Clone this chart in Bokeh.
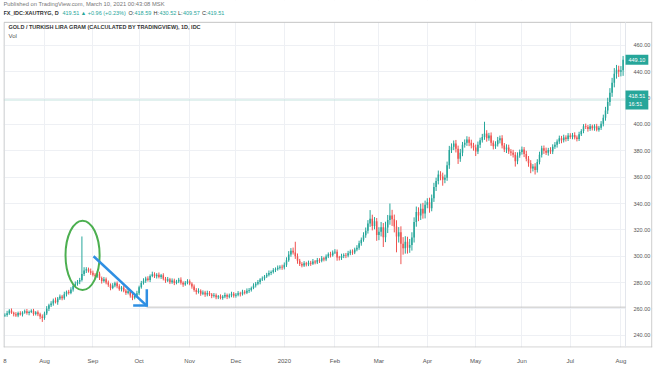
import pandas as pd
from bokeh.plotting import figure
from bokeh.models import (Range1d, FixedTicker, Label, Span, ColumnDataSource, NumeralTickFormatter,
                          BoxAnnotation)
from bokeh.embed import file_html
from bokeh.resources import INLINE

# ---------------- data ----------------
start_date = "2019-07-08"
first_open = 255.0

close_jul19 = [255.5, 256.8, 258.9, 257.2, 256.0, 255.1, 256.9, 255.8, 257.4, 258.3, 256.9, 257.8, 258.6, 256.2, 257.5, 256.1, 254.3, 253.2]
close_aug19 = [256.5, 260.2, 262.8, 264.1, 266.5, 265.2, 268.0, 269.4, 268.1, 271.2, 273.0, 272.2, 274.8, 277.5, 279.1, 280.6, 282.0, 286.5, 289.2, 290.1, 288.7, 287.5]
close_sep19 = [286.0, 284.8, 286.9, 283.5, 281.2, 282.6, 280.1, 278.4, 276.0, 277.8, 279.5, 277.2, 275.0, 276.3, 273.8, 272.1, 273.5, 270.2, 268.5, 269.8, 272.0]
close_oct19 = [276.5, 279.8, 281.5, 283.2, 282.0, 285.1, 286.4, 284.9, 286.0, 284.3, 285.6, 283.0, 281.4, 282.5, 280.3, 281.6, 279.8, 280.9, 282.1, 280.0, 278.6, 279.9, 281.0]
close_nov19 = [279.2, 277.0, 274.5, 272.8, 273.9, 271.5, 272.6, 270.9, 272.2, 271.0, 269.8, 270.5, 268.9, 269.6, 268.3, 269.4, 270.6, 269.2, 270.3, 271.5, 270.1]
close_dec19 = [270.8, 272.0, 271.2, 273.1, 272.4, 273.8, 274.5, 276.0, 277.8, 279.2, 280.5, 282.3, 283.1, 284.6, 286.0, 287.3, 288.1, 289.5, 290.2, 291.3, 292.0, 291.4]
close_jan20 = [293.5, 297.0, 301.4, 304.2, 302.8, 300.0, 296.5, 294.2, 293.0, 294.6, 293.8, 295.1, 294.4, 296.0, 295.3, 297.2, 296.5, 298.4, 297.6, 299.8, 301.5, 300.7, 302.9]
close_feb20 = [303.5, 299.0, 298.6, 300.2, 301.0, 300.5, 302.3, 303.6, 302.8, 305.2, 306.5, 309.8, 312.5, 316.0, 319.4, 324.8, 328.5, 323.0, 326.5, 316.2]
close_mar20 = [318.5, 322.0, 314.5, 321.8, 327.5, 331.0, 328.0, 322.5, 315.0, 318.2, 309.5, 306.0, 311.0, 306.5, 308.5, 314.2, 326.0, 333.5, 331.0, 336.0, 332.5, 339.0]
close_apr20 = [341.0, 336.5, 344.0, 352.5, 357.0, 362.0, 360.5, 358.0, 359.5, 369.0, 380.5, 383.0, 385.5, 381.5, 374.0, 378.5, 384.5, 386.0, 388.5, 386.0, 384.0, 382.5]
close_may20 = [379.5, 384.5, 388.0, 390.5, 393.0, 389.5, 391.5, 386.0, 383.5, 385.0, 388.0, 389.5, 384.0, 381.0, 382.5, 379.5, 378.5, 377.0, 372.0, 376.5, 379.0]
close_jun20 = [381.0, 377.5, 374.0, 370.5, 366.5, 368.0, 365.5, 371.5, 377.0, 382.0, 380.0, 378.5, 380.5, 379.5, 383.0, 384.5, 387.0, 389.5, 388.0, 390.0, 389.0, 391.5]
close_jul20 = [390.5, 392.0, 390.0, 389.0, 392.5, 395.0, 398.5, 398.0, 396.5, 398.5, 397.0, 398.5, 396.0, 397.5, 400.5, 405.0, 410.5, 417.0, 424.0, 431.5, 438.5, 441.5, 440.0]
close_aug20 = [441.0, 449.1]

# upper / lower wick lengths beyond the candle body
wick_hi_jul19 = [1.2, 1.8, 1.0, 1.5, 0.8, 1.6, 1.1, 1.4, 0.9, 1.3, 1.7, 1.0, 1.2, 1.5, 0.9, 1.4, 1.1, 1.6]
wick_hi_aug19 = [1.5, 2.0, 1.2, 1.8, 1.4, 2.2, 1.1, 1.6, 1.3, 1.9, 1.0, 1.5, 1.7, 1.2, 1.8, 1.4, 1.6, 28.5, 2.5, 1.6, 1.3, 2.0]
wick_hi_sep19 = [1.6, 1.2, 1.9, 1.4, 1.1, 1.7, 1.3, 1.5, 1.0, 1.8, 1.2, 1.4, 1.6, 1.1, 1.5, 1.3, 1.7, 1.0, 1.4, 1.2, 1.8]
wick_hi_oct19 = [1.2, 1.5, 1.8, 1.3, 1.6, 1.1, 1.9, 1.4, 1.2, 1.7, 1.0, 1.5, 1.3, 1.8, 1.1, 1.6, 1.4, 1.2, 1.5, 1.9, 1.0, 1.3, 1.6]
wick_hi_nov19 = [1.4, 1.1, 1.6, 1.3, 1.8, 1.0, 1.5, 1.2, 1.7, 1.4, 1.1, 1.6, 1.3, 1.0, 1.5, 1.2, 1.8, 1.1, 1.4, 1.6, 1.3]
wick_hi_dec19 = [1.3, 1.6, 1.1, 1.5, 1.2, 1.8, 1.4, 1.0, 1.7, 1.3, 1.5, 1.1, 1.6, 1.2, 1.4, 1.9, 1.1, 1.5, 1.3, 1.7, 1.2, 1.6]
wick_hi_jan20 = [1.8, 2.2, 2.5, 2.0, 2.4, 8.2, 2.1, 1.5, 1.3, 1.7, 1.2, 1.6, 1.4, 1.9, 1.1, 1.5, 1.3, 1.8, 1.2, 1.6, 1.4, 1.9, 1.5]
wick_hi_feb20 = [1.9, 1.6, 1.3, 1.7, 1.2, 1.5, 1.8, 1.4, 1.6, 1.3, 1.9, 2.0, 1.7, 2.2, 2.4, 2.6, 6.5, 3.0, 3.2, 2.5]
wick_hi_mar20 = [3.5, 4.0, 3.2, 4.4, 3.8, 9.0, 4.2, 3.6, 4.8, 3.9, 4.5, 5.0, 4.2, 3.8, 4.6, 4.0, 3.5, 4.2, 3.6, 3.9, 4.5, 3.2]
wick_hi_apr20 = [3.0, 3.4, 2.8, 3.2, 2.6, 3.0, 2.5, 2.9, 2.4, 2.8, 3.2, 2.6, 2.3, 2.7, 2.4, 2.9, 2.2, 2.6, 2.5, 2.1, 2.4, 2.0]
wick_hi_may20 = [2.2, 2.5, 1.9, 2.3, 9.0, 2.6, 2.1, 2.4, 1.8, 2.2, 2.5, 2.0, 2.3, 1.9, 2.4, 2.1, 1.8, 2.2, 2.0, 2.3, 1.9]
wick_hi_jun20 = [2.2, 1.8, 2.5, 2.0, 2.4, 1.9, 2.6, 2.1, 2.3, 1.8, 2.0, 2.4, 1.7, 2.2, 1.9, 2.1, 1.6, 2.0, 1.8, 2.2, 1.7, 1.9]
wick_hi_jul20 = [1.8, 1.5, 2.0, 1.6, 1.9, 1.4, 1.7, 2.1, 1.5, 1.8, 1.3, 1.6, 1.9, 1.4, 2.0, 2.4, 2.8, 3.2, 3.5, 3.8, 4.2, 3.6, 3.0]
wick_hi_aug20 = [3.2, 2.8]

wick_lo_jul19 = [1.0, 1.4, 1.2, 0.9, 1.6, 1.1, 1.3, 0.8, 1.5, 1.0, 1.2, 1.7, 0.9, 1.3, 1.1, 1.5, 2.0, 3.0]
wick_lo_aug19 = [1.4, 1.1, 1.8, 1.3, 1.6, 1.0, 2.0, 1.2, 1.5, 1.1, 1.7, 1.3, 1.0, 1.6, 1.2, 1.4, 1.8, 1.2, 1.5, 1.9, 1.1, 1.6]
wick_lo_sep19 = [1.3, 1.7, 1.1, 1.5, 1.9, 1.2, 1.4, 1.6, 1.8, 1.0, 1.3, 1.5, 1.2, 1.7, 1.1, 1.4, 1.0, 1.6, 1.8, 1.2, 1.0]
wick_lo_oct19 = [1.5, 1.1, 1.3, 1.7, 1.2, 1.6, 1.0, 1.4, 1.8, 1.1, 1.5, 1.3, 1.6, 1.0, 1.4, 1.2, 1.7, 1.1, 1.3, 1.5, 1.8, 1.0, 1.2]
wick_lo_nov19 = [1.2, 1.6, 1.4, 1.8, 1.1, 1.5, 1.0, 1.7, 1.3, 1.2, 1.6, 1.1, 1.5, 1.4, 1.0, 1.3, 1.2, 1.7, 1.1, 1.4, 1.5]
wick_lo_dec19 = [1.5, 1.2, 1.7, 1.0, 1.4, 1.1, 1.6, 1.3, 1.0, 1.5, 1.2, 1.8, 1.1, 1.4, 1.0, 1.3, 1.6, 1.2, 1.5, 1.1, 1.4, 1.7]
wick_lo_jan20 = [1.4, 1.6, 1.2, 1.8, 1.5, 2.0, 2.2, 1.6, 1.4, 1.1, 1.5, 1.3, 1.7, 1.0, 1.4, 1.2, 1.6, 1.1, 1.5, 1.3, 1.2, 1.6, 1.0]
wick_lo_feb20 = [1.2, 2.4, 1.8, 1.4, 1.6, 1.9, 1.3, 1.5, 1.7, 1.2, 1.4, 1.6, 1.8, 1.5, 2.0, 2.2, 2.5, 3.4, 2.6, 4.5]
wick_lo_mar20 = [4.0, 3.5, 7.5, 3.8, 4.2, 3.6, 5.0, 4.4, 12.0, 4.6, 15.5, 4.8, 4.0, 4.5, 3.9, 4.2, 3.8, 3.6, 4.4, 3.5, 4.0, 3.8]
wick_lo_apr20 = [2.6, 3.5, 2.4, 2.8, 3.0, 2.5, 2.9, 4.5, 2.6, 2.3, 2.7, 2.2, 2.5, 2.8, 4.0, 2.4, 2.6, 2.1, 2.3, 2.5, 2.2, 2.4]
wick_lo_may20 = [3.5, 2.0, 2.4, 1.8, 2.2, 2.6, 1.9, 2.3, 2.5, 2.1, 1.8, 2.4, 2.2, 2.0, 2.7, 1.9, 2.3, 2.1, 4.0, 2.2, 1.8]
wick_lo_jun20 = [1.9, 2.3, 2.0, 2.6, 3.5, 2.2, 3.5, 2.0, 1.8, 2.1, 2.4, 1.7, 2.2, 1.9, 2.0, 1.6, 2.1, 1.8, 2.3, 1.7, 2.0, 1.6]
wick_lo_jul20 = [1.5, 1.8, 1.4, 1.9, 1.6, 1.3, 1.7, 1.5, 2.0, 1.4, 1.6, 1.8, 1.3, 1.5, 1.7, 2.0, 2.2, 2.6, 2.9, 3.1, 3.4, 3.8, 4.0]
wick_lo_aug20 = [3.6, 4.2]

tick_labels = ["8", "Aug", "Sep", "Oct", "Nov", "Dec", "2020", "Feb", "Mar", "Apr", "May", "Jun", "Jul", "Aug"]
price_ticks = [240, 260, 280, 300, 320, 340, 360, 380, 400, 420, 440, 460]
last_price = 418.51
marker_price = 449.10

# hand-drawn annotations (bar index, price)
circle_xy = [35.3, 300.7]
circle_wh = [15.5, 52.6]
arrow_x = [40.3, 64.4]
arrow_y = [300.0, 262.6]
head_v_x = [64.5, 64.5]
head_v_y = [275.0, 261.8]
head_h_x = [58.3, 65.0]
head_h_y = [262.6, 262.6]
ray_y = 261.4

# pane geometry in data units
x_lo, x_hi = -0.64, 294.36     # full width incl. price-scale column
scale_edge = 282.1             # where the price-scale column starts
y_lo, pane_top, y_hi = 230.8, 477.4, 493.96   # header strip sits above pane_top

# ---------------- assemble ----------------
close = (close_jul19 + close_aug19 + close_sep19 + close_oct19 + close_nov19 + close_dec19 +
         close_jan20 + close_feb20 + close_mar20 + close_apr20 + close_may20 + close_jun20 +
         close_jul20 + close_aug20)
wick_hi = (wick_hi_jul19 + wick_hi_aug19 + wick_hi_sep19 + wick_hi_oct19 + wick_hi_nov19 + wick_hi_dec19 +
           wick_hi_jan20 + wick_hi_feb20 + wick_hi_mar20 + wick_hi_apr20 + wick_hi_may20 + wick_hi_jun20 +
           wick_hi_jul20 + wick_hi_aug20)
wick_lo = (wick_lo_jul19 + wick_lo_aug19 + wick_lo_sep19 + wick_lo_oct19 + wick_lo_nov19 + wick_lo_dec19 +
           wick_lo_jan20 + wick_lo_feb20 + wick_lo_mar20 + wick_lo_apr20 + wick_lo_may20 + wick_lo_jun20 +
           wick_lo_jul20 + wick_lo_aug20)
n = min(len(close), len(wick_hi), len(wick_lo))
close = close[:n]
dates = pd.bdate_range(start_date, periods=n)
opens = [first_open] + close[:-1]
xs = list(range(n))
tops = [max(o, c) for o, c in zip(opens, close)]
bots = [min(o, c) for o, c in zip(opens, close)]
bots = [b if t - b >= 0.4 else t - 0.4 for t, b in zip(tops, bots)]
highs = [t + w for t, w in zip(tops, wick_hi[:n])]
lows = [b - w for b, w in zip(bots, wick_lo[:n])]
UP, DOWN = "#26a69a", "#ef5350"
colors = [UP if c >= o else DOWN for o, c in zip(opens, close)]

src = ColumnDataSource(dict(x=xs, top=tops, bottom=bots, high=highs, low=lows, color=colors))

month_ticks = [0] + [k for k in range(1, n) if dates[k].month != dates[k - 1].month]

FONT = "Liberation Sans"
BORDER = "#c4c4c4"

p = figure(width=654, height=366, x_range=Range1d(x_lo, x_hi), y_range=Range1d(y_lo, y_hi),
           y_axis_location="right", output_backend="svg", toolbar_location=None,
           min_border_left=3, min_border_right=2, min_border_top=0, min_border_bottom=16)
p.background_fill_color = "white"
p.border_fill_color = "white"
p.outline_line_color = None

# grid
p.xgrid.ticker = FixedTicker(ticks=month_ticks)
p.ygrid.ticker = FixedTicker(ticks=price_ticks)
p.xgrid.grid_line_color = "#eef0f4"
p.ygrid.grid_line_color = "#eef0f4"

# last-price line (under the price-scale column)
p.add_layout(Span(location=last_price, dimension="width", line_color="#c3e3de", line_width=1,
                  level="underlay"))
# blank header strip and price-scale column
p.add_layout(BoxAnnotation(bottom=pane_top, fill_color="white", fill_alpha=1.0, line_color=None,
                           level="underlay"))
p.add_layout(BoxAnnotation(left=scale_edge, fill_color="white", fill_alpha=1.0, line_color=None,
                           level="underlay"))

# chart box
p.segment(x0=[x_lo + 0.2, x_lo + 0.2, x_hi - 0.3, x_lo, scale_edge],
          y0=[pane_top, y_lo, y_lo, y_lo + 0.3, y_lo],
          x1=[x_hi, x_lo + 0.2, x_hi - 0.3, x_hi, scale_edge],
          y1=[pane_top, pane_top, pane_top, y_lo + 0.3, pane_top],
          line_color=[BORDER, BORDER, BORDER, BORDER, "#e3e6ec"], line_width=1)

# axes
xa = p.xaxis[0]
xa.ticker = FixedTicker(ticks=month_ticks)
xa.major_label_overrides = {t: lab for t, lab in zip(month_ticks, tick_labels)}
xa.axis_line_color = None
xa.major_tick_line_color = None
xa.minor_tick_line_color = None
xa.major_label_text_font = FONT
xa.major_label_text_font_size = "6px"
xa.major_label_text_color = "#555555"
xa.major_label_standoff = 4

ya = p.yaxis[0]
ya.ticker = FixedTicker(ticks=price_ticks)
ya.formatter = NumeralTickFormatter(format="0.00")
ya.axis_line_color = None
ya.major_tick_line_color = None
ya.major_tick_out = 0
ya.major_tick_in = 0
ya.minor_tick_line_color = None
ya.major_label_text_font = FONT
ya.major_label_text_font_size = "5.5px"
ya.major_label_text_color = "#555555"
ya.major_label_standoff = -19

# user-drawn horizontal ray
p.segment(x0=[arrow_x[1]], y0=[ray_y], x1=[scale_edge], y1=[ray_y], line_color="#c4c4c4", line_width=1)

# candles
p.segment(x0="x", y0="low", x1="x", y1="high", line_color="color", line_width=1, source=src)
p.vbar(x="x", width=0.68, top="top", bottom="bottom", fill_color="color", line_color=None, source=src)

# hand-drawn annotations
p.ellipse(x=[circle_xy[0]], y=[circle_xy[1]], width=[circle_wh[0]], height=[circle_wh[1]],
          fill_color=None, line_color="#4caf50", line_width=2)
p.line(arrow_x, arrow_y, line_color="#2f8fe3", line_width=2.5)
p.line(head_v_x, head_v_y, line_color="#2f8fe3", line_width=2.5)
p.line(head_h_x, head_h_y, line_color="#2f8fe3", line_width=2.5)

# price-scale badges
p.add_layout(Label(x=622, y=marker_price, x_units="screen", y_units="data", text="449.10",
                   text_font=FONT, text_font_size="5.5px", text_color="white",
                   text_baseline="middle", background_fill_color=UP, padding=3))
p.add_layout(Label(x=622, y=last_price, x_units="screen", y_units="data", text="418.51\n16:51",
                   text_font=FONT, text_font_size="5.5px", text_color="white",
                   text_baseline="middle", background_fill_color=UP, padding=3))

# texts (screen units from the pane's bottom-left corner)
def txt(x, y, s, color="#333333", size="5.5px", bold=False):
    p.add_layout(Label(x=x, y=y, x_units="screen", y_units="screen", text=s,
                       text_font=FONT, text_font_size=size, text_color=color,
                       text_font_style="bold" if bold else "normal", text_baseline="middle"))

txt(0, 344, "Published on TradingView.com, March 10, 2021 00:43:08 MSK", color="#777777", size="5.8px")
txt(0, 335, "FX_IDC:XAUTRYG, D", bold=True)
txt(59, 335, "419.51 \u25b2 +0.96 (+0.23%)", color=UP)
txt(125, 335, "O:")
txt(131, 335, "418.59", color=UP)
txt(150, 335, "H:")
txt(156, 335, "430.52", color=UP)
txt(174.5, 335, "L:")
txt(179.5, 335, "409.57", color=UP)
txt(198.5, 335, "C:")
txt(204, 335, "419.51", color=UP)
txt(5, 321, "GOLD / TURKISH LIRA GRAM (CALCULATED BY TRADINGVIEW), 1D, IDC", bold=True)
txt(5, 312, "Vol", color="#555555", size="6px")

html = file_html(p, INLINE)
html = html.replace("<body>", '<body style="margin:0;overflow:hidden">', 1)
open("out.html", "w").write(html)
